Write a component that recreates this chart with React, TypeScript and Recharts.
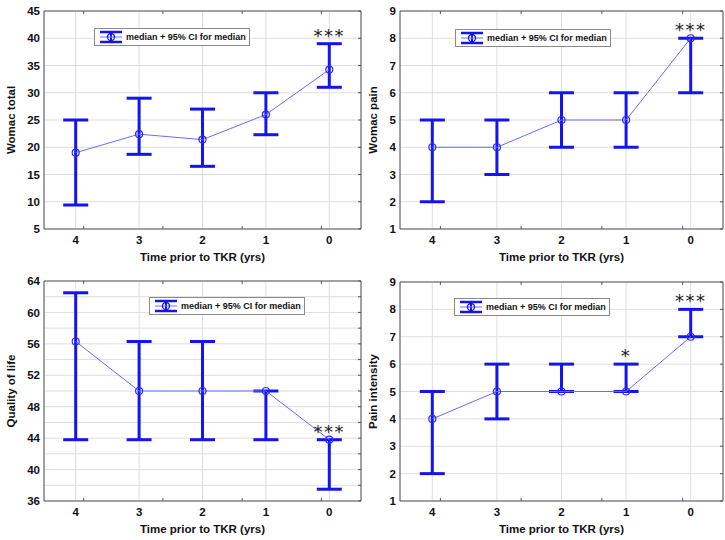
import React from 'react';
import { LineChart, Line, XAxis, YAxis, CartesianGrid, ErrorBar, LabelList, Legend } from 'recharts';

// ---- data ----
const years = [4, 3, 2, 1, 0];
const minorYears = [3.5, 2.5, 1.5, 0.5];

const totalMedian = [19, 22.4, 21.4, 26, 34.25];
const totalLower = [9.4, 18.7, 16.5, 22.3, 31];
const totalUpper = [25, 29, 27, 30, 39];
const totalSig = ['', '', '', '', '***'];

const painMedian = [4, 4, 5, 5, 8];
const painLower = [2, 3, 4, 4, 6];
const painUpper = [5, 5, 6, 6, 8];
const painSig = ['', '', '', '', '***'];

const qolMedian = [56.3, 50, 50, 50, 43.8];
const qolLower = [43.8, 43.8, 43.8, 43.8, 37.5];
const qolUpper = [62.5, 56.3, 56.3, 50, 43.8];
const qolSig = ['', '', '', '', '***'];

const intMedian = [4, 5, 5, 5, 7];
const intLower = [2, 4, 5, 5, 7];
const intUpper = [5, 6, 6, 6, 8];
const intSig = ['', '', '', '*', '***'];

const yTicksTotal = [5, 10, 15, 20, 25, 30, 35, 40, 45];
const yTicksPain = [1, 2, 3, 4, 5, 6, 7, 8, 9];
const yTicksQol = [36, 38, 40, 42, 44, 46, 48, 50, 52, 54, 56, 58, 60, 62, 64];
const yTicksInt = [1, 2, 3, 4, 5, 6, 7, 8, 9];

const legendLabel = 'median + 95% CI for median';
const xTitle = 'Time prior to TKR (yrs)';

const FONT = '"Liberation Sans", Arial, sans-serif';
const BLUE = '#1414f0';

function buildRows(med: number[], lo: number[], hi: number[], sig: string[]) {
  return years.map((yr, i) => ({
    yr,
    med: med[i],
    ci: [med[i] - lo[i], hi[i] - med[i]],
    hi: hi[i],
    sig: sig[i],
  }));
}

const XTitle = (props: any) => {
  const vb = props.viewBox || {};
  return (
    <text x={vb.x + vb.width / 2} y={vb.y + 28} textAnchor="middle" dominantBaseline="central"
      style={{ fontFamily: FONT, fontSize: 11.5, fontWeight: 'bold', fill: '#111' }}>
      {xTitle}
    </text>
  );
};

const makeYTitle = (title: string) => (props: any) => {
  const vb = props.viewBox || {};
  const cx = 11;
  const cy = vb.y + vb.height / 2;
  return (
    <text x={cx} y={cy} transform={`rotate(-90 ${cx} ${cy})`} textAnchor="middle" dominantBaseline="central"
      style={{ fontFamily: FONT, fontSize: 11.5, fontWeight: 'bold', fill: '#111' }}>
      {title}
    </text>
  );
};

const LegendBox = () => (
  <div style={{
    display: 'flex', alignItems: 'center', border: '1px solid #8a8a8a', background: '#fff',
    height: 16, padding: '0 3px 0 3px', boxSizing: 'content-box', whiteSpace: 'nowrap',
  }}>
    <svg width={26} height={16} style={{ display: 'block' }}>
      <line x1={2} y1={3} x2={24} y2={3} stroke={BLUE} strokeWidth={2.5} />
      <line x1={2} y1={13} x2={24} y2={13} stroke={BLUE} strokeWidth={2.5} />
      <line x1={13} y1={3} x2={13} y2={13} stroke={BLUE} strokeWidth={2} />
      <line x1={2} y1={8} x2={24} y2={8} stroke="#7070ff" strokeWidth={1} />
      <circle cx={13} cy={8} r={3.5} stroke={BLUE} strokeWidth={1.3} fill="none" />
    </svg>
    <span style={{ fontFamily: FONT, fontSize: 9, fontWeight: 'bold', color: '#111', marginLeft: 2 }}>
      {legendLabel}
    </span>
  </div>
);

type PanelProps = {
  left: number; top: number; width: number; height: number;
  margin: { top: number; right: number; bottom: number; left: number };
  yWidth: number; xHeight: number;
  rows: any[]; yDomain: [number, number]; yTicks: number[];
  yFmt?: (v: number) => string; yTitle: string; legendPos: { left: number; top: number };
};

const tickStyle = { fontFamily: FONT, fontSize: 11.5, fontWeight: 'bold', fill: '#111' } as any;

function Panel(p: PanelProps) {
  return (
    <div style={{ position: 'absolute', left: p.left, top: p.top, width: p.width, height: p.height }}>
      <LineChart width={p.width} height={p.height} data={p.rows} margin={p.margin}>
        <CartesianGrid stroke="#dedede" strokeWidth={1} />
        <XAxis dataKey="yr" type="number" domain={[-0.5, 4.5]} reversed ticks={years} allowDataOverflow
          tickSize={0} tickMargin={7} tickLine={false} axisLine={{ stroke: '#555' }} height={p.xHeight}
          tick={tickStyle} label={<XTitle />} />
        <XAxis xAxisId="bm" type="number" domain={[-0.5, 4.5]} reversed ticks={minorYears} allowDataOverflow
          orientation="bottom" mirror tickSize={3} tickFormatter={() => ''} axisLine={false}
          tickLine={{ stroke: '#555' }} height={10} />
        <XAxis xAxisId="t" type="number" domain={[-0.5, 4.5]} reversed ticks={minorYears} allowDataOverflow
          orientation="top" mirror tickSize={3} tickFormatter={() => ''} axisLine={{ stroke: '#555' }}
          tickLine={{ stroke: '#555' }} height={10} />
        <YAxis type="number" domain={p.yDomain} ticks={p.yTicks} allowDataOverflow width={p.yWidth}
          tickSize={0} tickMargin={4} tickLine={false} axisLine={{ stroke: '#555' }} tick={tickStyle}
          tickFormatter={p.yFmt} label={makeYTitle(p.yTitle)} interval={0} />
        <YAxis yAxisId="r" orientation="right" mirror type="number" domain={p.yDomain} ticks={p.yTicks}
          allowDataOverflow width={10} tickSize={3} tickFormatter={() => ''} axisLine={{ stroke: '#555' }}
          tickLine={{ stroke: '#555' }} interval={0} />
        <Legend layout="vertical" align="center" verticalAlign="middle" content={() => <LegendBox />}
          wrapperStyle={{ left: p.legendPos.left, top: p.legendPos.top, width: 'auto', height: 'auto' }} />
        <Line dataKey="med" stroke="#6a6aff" strokeWidth={1} isAnimationActive={false}
          dot={{ r: 3.5, stroke: '#2a2aff', strokeWidth: 1.2, fill: 'none' }} activeDot={false}>
          <ErrorBar dataKey="ci" direction="y" width={12.5} stroke={BLUE} strokeWidth={3} />
        </Line>
        <Line dataKey="hi" stroke="none" dot={false} activeDot={false} isAnimationActive={false}>
          <LabelList dataKey="sig" position="top" offset={2}
            style={{ fontFamily: '"DejaVu Sans", sans-serif', fontSize: 18, letterSpacing: 1.5, fill: '#222' }} />
        </Line>
      </LineChart>
    </div>
  );
}

export default function App() {
  return (
    <div style={{ position: 'absolute', left: 0, top: 0, width: 725, height: 540, background: '#fff' }}>
      <Panel left={0} top={0} width={362} height={270} margin={{ top: 11, right: 1, bottom: 0, left: 0 }}
        yWidth={44} xHeight={41} rows={buildRows(totalMedian, totalLower, totalUpper, totalSig)}
        yDomain={[5, 45]} yTicks={yTicksTotal} yTitle="Womac total" legendPos={{ left: 94, top: 28 }} />
      <Panel left={362} top={0} width={363} height={270} margin={{ top: 11, right: 2, bottom: 0, left: 0 }}
        yWidth={38} xHeight={41} rows={buildRows(painMedian, painLower, painUpper, painSig)}
        yDomain={[1, 9]} yTicks={yTicksPain} yTitle="Womac pain" legendPos={{ left: 93, top: 29 }} />
      <Panel left={0} top={270} width={362} height={270} margin={{ top: 11, right: 1, bottom: 0, left: 0 }}
        yWidth={44} xHeight={39} rows={buildRows(qolMedian, qolLower, qolUpper, qolSig)}
        yDomain={[36, 64]} yTicks={yTicksQol} yFmt={(v: number) => (v % 4 === 0 ? String(v) : '')}
        yTitle="Quality of life" legendPos={{ left: 149, top: 27 }} />
      <Panel left={362} top={270} width={363} height={270} margin={{ top: 12, right: 2, bottom: 0, left: 0 }}
        yWidth={38} xHeight={39} rows={buildRows(intMedian, intLower, intUpper, intSig)}
        yDomain={[1, 9]} yTicks={yTicksInt} yTitle="Pain intensity" legendPos={{ left: 92, top: 28 }} />
    </div>
  );
}
